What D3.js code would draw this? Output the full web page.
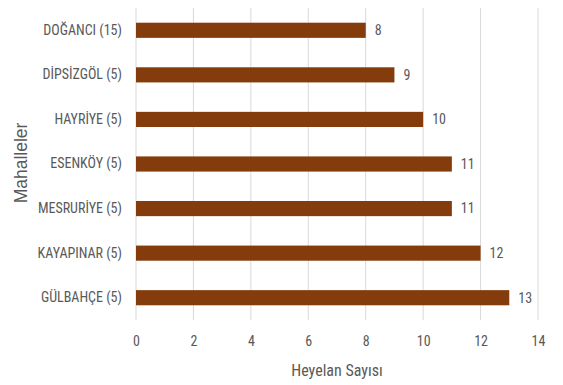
<!DOCTYPE html>
<html>
<head>
<meta charset="utf-8">
<script src="https://cdn.jsdelivr.net/npm/d3@7"></script>
<style>
  html, body { margin: 0; padding: 0; background: #fff; }
  svg { display: block; font-family: "Roboto Condensed", Lato, sans-serif; }
</style>
</head>
<body>
<svg id="chart" width="563" height="385"></svg>
<script>
// Neighbourhoods (the number in parentheses is part of the label)
const categories = ["DOĞANCI (15)", "DİPSİZGÖL (5)", "HAYRİYE (5)", "ESENKÖY (5)", "MESRURİYE (5)", "KAYAPINAR (5)", "GÜLBAHÇE (5)"];
const values = [8, 9, 10, 11, 11, 12, 13];
const xTicks = [0, 2, 4, 6, 8, 10, 12, 14];
const xTitle = "Heyelan Sayısı";
const yTitle = "Mahalleler";

const svg = d3.select("#chart");
const margin = { left: 136, right: 25, top: 8, bottom: 65 };
const W = 563, H = 385;

const x = d3.scaleLinear().domain([0, 14]).range([margin.left, W - margin.right]);
const y = d3.scaleBand().domain(categories).range([margin.top, H - margin.bottom]).paddingInner(0.66).paddingOuter(0.33);

const textColor = "#595959";
const labelSize = 14;

// vertical gridlines
svg.append("g").selectAll("line").data(xTicks).join("line")
  .attr("x1", d => x(d)).attr("x2", d => x(d))
  .attr("y1", margin.top).attr("y2", H - margin.bottom)
  .attr("stroke", "#d9d9d9").attr("stroke-width", 1);

// bars
svg.append("g").selectAll("rect").data(values).join("rect")
  .attr("x", x(0))
  .attr("y", (d, i) => y(categories[i]))
  .attr("width", d => x(d) - x(0))
  .attr("height", y.bandwidth())
  .attr("fill", "#843c0c");

// value labels
svg.append("g").selectAll("text").data(values).join("text")
  .attr("x", d => x(d) + 9)
  .attr("y", (d, i) => y(categories[i]) + y.bandwidth() / 2)
  .attr("dy", "0.35em")
  .attr("fill", textColor)
  .attr("font-size", labelSize)
  .text(d => d);

// category axis
const yAxis = svg.append("g")
  .attr("transform", `translate(${margin.left},0)`)
  .call(d3.axisLeft(y).tickSize(0).tickPadding(14))
  .attr("font-family", null).attr("font-size", labelSize);
yAxis.select(".domain").remove();
yAxis.selectAll("text").attr("fill", textColor);

// value axis
const xAxis = svg.append("g")
  .attr("transform", `translate(0,${H - margin.bottom})`)
  .call(d3.axisBottom(x).tickValues(xTicks).tickSize(0).tickPadding(16).tickFormat(d3.format("d")))
  .attr("font-family", null).attr("font-size", labelSize);
xAxis.select(".domain").remove();
xAxis.selectAll("text").attr("fill", textColor);

// axis titles
svg.append("text")
  .attr("x", x(7)).attr("y", 376)
  .attr("text-anchor", "middle")
  .attr("fill", textColor).attr("font-size", 16)
  .text(xTitle);

svg.append("text")
  .attr("transform", `translate(27,163) rotate(-90)`)
  .attr("text-anchor", "middle")
  .attr("font-family", "'Liberation Sans', sans-serif")
  .attr("fill", textColor).attr("font-size", 17.5)
  .text(yTitle);
</script>
</body>
</html>
